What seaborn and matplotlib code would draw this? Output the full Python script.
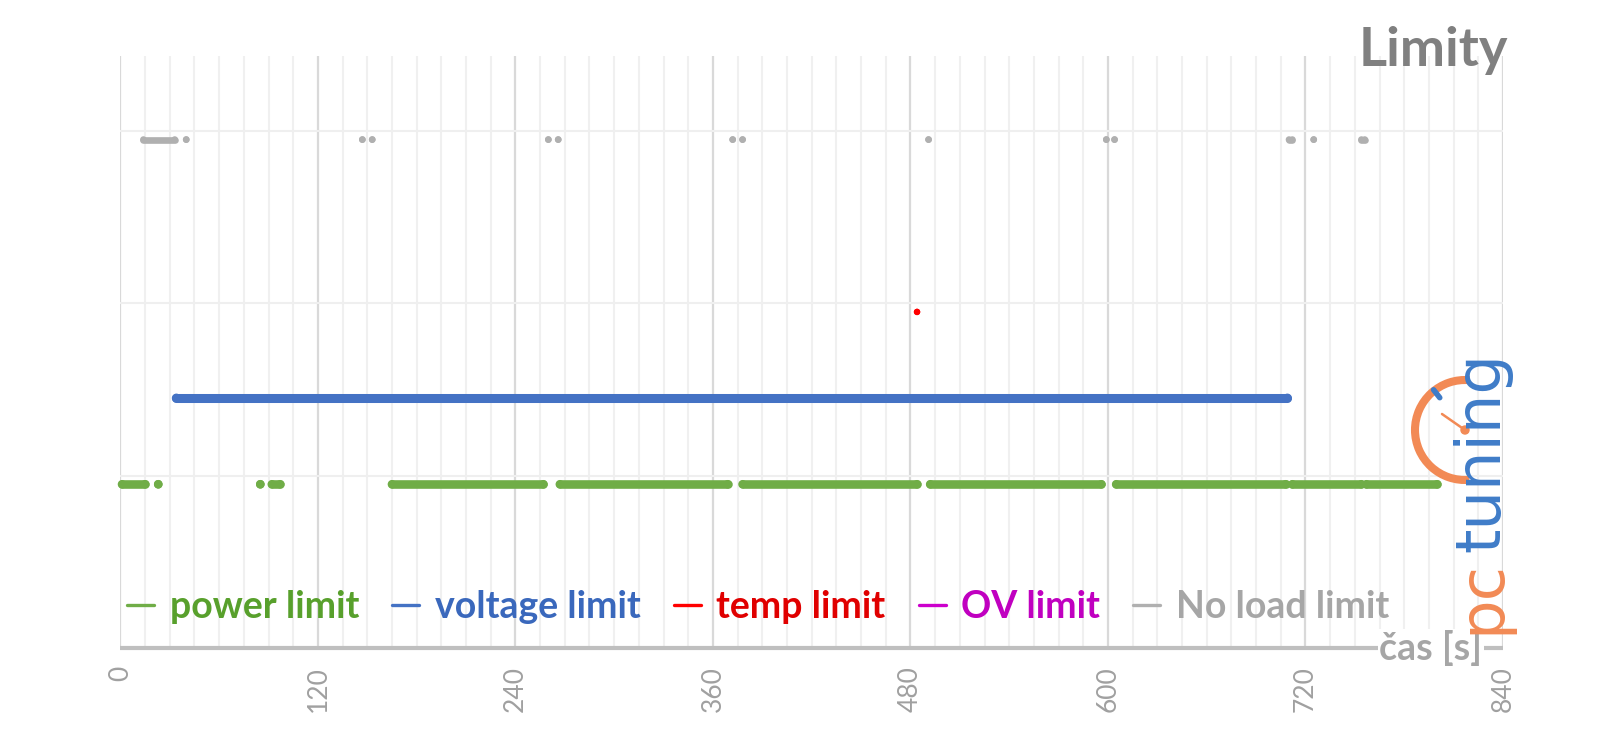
import numpy as np
import pandas as pd
import matplotlib
matplotlib.use("Agg")
import matplotlib.pyplot as plt
import seaborn as sns
from matplotlib.lines import Line2D
from matplotlib.patches import Arc, Circle

# ---------------- data ----------------
series_names = ["power limit", "voltage limit", "temp limit", "OV limit", "No load limit"]
series_levels = [1.9, 2.9, 3.9, 4.9, 5.9]
line_colors = ["#70AD47", "#4472C4", "#FF0000", "#CC00CC", "#B0B0B0"]
text_colors = ["#58A02C", "#3A68BC", "#E00000", "#C000C0", "#A6A6A6"]
mark_widths = [6.2, 6.5, 4.6, 5.0, 4.8]  # pt

# time intervals (s) during which each limit was active
power_start = [1, 23, 85, 92, 165, 267, 378, 492, 605, 712, 757]
power_end = [15, 23, 85, 97, 257, 369, 484, 596, 708, 754, 800]
voltage_start = [34]
voltage_end = [709]
temp_start = [484]
temp_end = [484]
ov_start = []
ov_end = []
noload_start = [14, 40, 147, 153, 260, 266, 372, 378, 491, 599, 604, 710, 725, 754]
noload_end = [33, 40, 147, 153, 260, 266, 372, 378, 491, 599, 604, 712, 725, 756]

x_ticks = [0, 120, 240, 360, 480, 600, 720, 840]
x_label = "čas [s]"
title = "Limity"

starts = [power_start, voltage_start, temp_start, ov_start, noload_start]
ends = [power_end, voltage_end, temp_end, ov_end, noload_end]

rows = []
for name, lvl, ss, ee in zip(series_names, series_levels, starts, ends):
    for k, (s, e) in enumerate(zip(ss, ee)):
        rows.append({"series": name, "seg": f"{name}-{k}", "t": s, "level": lvl})
        rows.append({"series": name, "seg": f"{name}-{k}", "t": e, "level": lvl})
df = pd.DataFrame(rows)

palette = dict(zip(series_names, line_colors))
present = [n for n in series_names if n in set(df["series"])]

# ---------------- figure ----------------
sns.set_style("white")
plt.rcParams["font.family"] = ["Lato", "DejaVu Sans"]

fig = plt.figure(figsize=(16, 7.45), dpi=100)
ax = fig.add_axes([120.4 / 1600, 97 / 745, (1503 - 120.4) / 1600, (648 - 56) / 745])

sns.lineplot(data=df, x="t", y="level", hue="series", hue_order=present,
             size="series", size_order=present,
             sizes={n: w for n, w in zip(series_names, mark_widths) if n in present},
             palette={n: palette[n] for n in present},
             units="seg", estimator=None, sort=False, legend=False, ax=ax)
sns.scatterplot(data=df, x="t", y="level", hue="series", hue_order=present,
                size="series", size_order=present,
                sizes={n: w ** 2 for n, w in zip(series_names, mark_widths) if n in present},
                palette={n: palette[n] for n in present},
                linewidth=0, legend=False, ax=ax, zorder=3)
for art in list(ax.lines) + list(ax.collections):
    art.set_clip_on(False)

ax.set_xlim(0, 840)
ax.set_ylim(0, 6.87)
ax.set_xticks(x_ticks)
ax.set_xticks(np.arange(0, 841, 15), minor=True)
ax.set_yticks([2, 4, 6])
ax.set_axisbelow(True)
ax.grid(which="major", axis="x", color="#D9D9D9", lw=1.6)
ax.grid(which="minor", axis="x", color="#F0F0F0", lw=1.5)
ax.grid(which="major", axis="y", color="#EFEFEF", lw=1.5)
ax.tick_params(axis="y", left=False, labelleft=False)
ax.tick_params(axis="x", which="minor", bottom=False)
ax.tick_params(axis="x", which="major", direction="out", length=7, width=1.6,
               color="#BFBFBF", labelcolor="#A0A0A0", labelsize=19,
               labelrotation=90, pad=6)
ax.set_xlabel("")
ax.set_ylabel("")
for sp in ["top", "right", "left"]:
    ax.spines[sp].set_visible(False)
ax.spines["bottom"].set_color("#BFBFBF")
ax.spines["bottom"].set_linewidth(3)
ax.spines["bottom"].set_capstyle("butt")

# legend
handles = [Line2D([0], [0], color=c, lw=2.4) for c in line_colors]
fig.legend(handles, series_names, loc="center left",
           bbox_to_anchor=(127 / 1600, 1 - 607 / 745), ncol=5, frameon=False,
           handlelength=0.72, handletextpad=0.42, columnspacing=0.88,
           borderpad=0, borderaxespad=0,
           prop={"family": "Lato", "weight": "bold", "size": 27},
           labelcolor=text_colors)

# title and axis label
fig.text(1508 / 1600, 1 - 66 / 745, title, ha="right", va="baseline",
         fontsize=39, fontweight="bold", color="#808080")
fig.text(1482 / 1600, 1 - 648 / 745, x_label, ha="right", va="center",
         fontsize=27, fontweight="bold", color="#A6A6A6",
         bbox=dict(facecolor="white", edgecolor="none", pad=1))

# pctuning watermark (decoration, pixel coordinates)
ov = fig.add_axes([0, 0, 1, 1], zorder=10)
ov.set_xlim(0, 1600)
ov.set_ylim(745, 0)
ov.axis("off")
orange = "#F28A55"
blue = "#3F7CC8"
ov.text(1499, 634, "pc", rotation=90, rotation_mode="anchor", ha="left",
        va="baseline", fontsize=45, color=orange, family="DejaVu Sans")
ov.text(1499, 552, "tuning", rotation=90, rotation_mode="anchor", ha="left",
        va="baseline", fontsize=45, color=blue, family="DejaVu Sans")
cx, cy, r = 1465, 430, 50
ov.add_patch(Arc((cx, cy), 2 * r, 2 * r, theta1=85, theta2=275, lw=5.8, color=orange))
ang = np.deg2rad(128)
ov.plot([cx + (r - 9) * np.cos(ang), cx + (r + 1) * np.cos(ang)],
        [cy - (r - 9) * np.sin(ang), cy - (r + 1) * np.sin(ang)], color=blue, lw=4)
ov.plot([1442, cx], [414, cy], color=orange, lw=1.8)
ov.add_patch(Circle((cx, cy), 4, color=orange))

fig.savefig("out.png", dpi=100)
